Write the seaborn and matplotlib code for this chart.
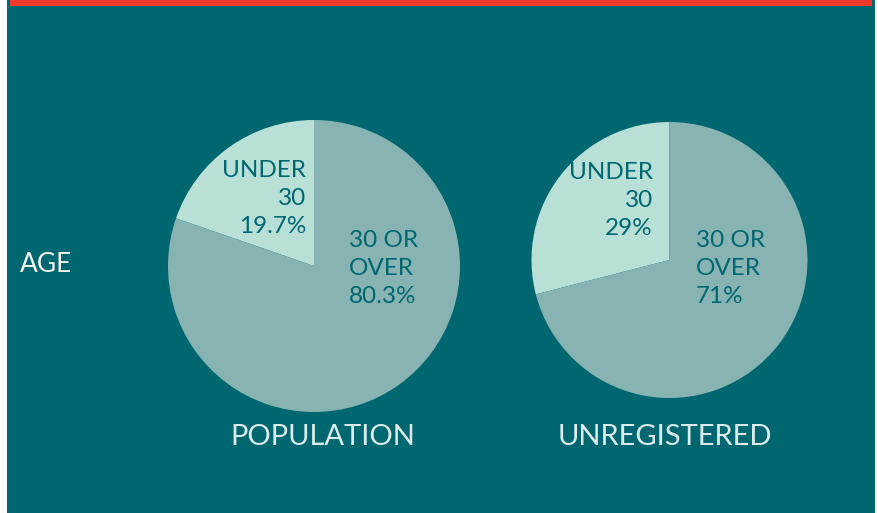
import matplotlib
matplotlib.use("Agg")
import matplotlib.pyplot as plt
import matplotlib.patches as mpatches
import seaborn as sns

# ---- data ----
groups = ["POPULATION", "UNREGISTERED"]
segments = ["UNDER 30", "30 OR OVER"]
under30 = [19.7, 29]
over30 = [80.3, 71]
under30_labels = ["UNDER\n30\n19.7%", "UNDER\n30\n29%"]
over30_labels = ["30 OR\nOVER\n80.3%", "30 OR\nOVER\n71%"]

# ---- style ----
sns.set_theme(style="white")
plt.rcParams["font.family"] = ["Lato", "DejaVu Sans"]

BG = "#006670"
RED = "#f0392a"
pal = sns.color_palette(["#b8e0d7", "#88b3b3"])

W, H = 879, 513
fig = plt.figure(figsize=(W / 100, H / 100), dpi=100, facecolor="white")

def fx(px):
    return px / W

def fy(py):
    return 1 - py / H

# teal panel and red strip on top (behind everything)
fig.patches.append(mpatches.Rectangle((fx(7), 0), fx(868), 1, transform=fig.transFigure,
                                      facecolor=BG, edgecolor="none", zorder=-5))
fig.patches.append(mpatches.Rectangle((fx(10), fy(6)), fx(862), 6 / H, transform=fig.transFigure,
                                      facecolor=RED, edgecolor="none", zorder=-4))

# pie placement (pixel centers / radii)
pies = [dict(cx=314, cy=266, r=146, ul=(306, 160), ol=(349, 230), title_x=323),
        dict(cx=669.5, cy=260, r=138, ul=(653, 162), ol=(696, 230), title_x=665)]

for i, p in enumerate(pies):
    ax = fig.add_axes([fx(p["cx"] - p["r"]), fy(p["cy"] + p["r"]),
                       fx(2 * p["r"]), 2 * p["r"] / H])
    ax.patch.set_visible(False)
    ax.pie([under30[i], over30[i]], colors=pal, startangle=90, counterclock=True,
           radius=1, wedgeprops=dict(linewidth=0))
    ax.set_xlim(-1, 1)
    ax.set_ylim(-1, 1)
    ax.set_aspect("equal")
    ax.axis("off")

    fig.text(fx(p["ul"][0]), fy(p["ul"][1]), under30_labels[i], ha="right", va="top",
             color=BG, fontsize=17.5, linespacing=1.4, zorder=5)
    fig.text(fx(p["ol"][0]), fy(p["ol"][1]), over30_labels[i], ha="left", va="top",
             color=BG, fontsize=17.5, linespacing=1.4, zorder=5)
    fig.text(fx(p["title_x"]), fy(437), groups[i], ha="center", va="center",
             color="#dcecec", fontsize=21)

fig.text(fx(20), fy(264), "AGE", ha="left", va="center", color="#f4f6f0", fontsize=19)

fig.savefig("out.png", dpi=100, facecolor=fig.get_facecolor())
